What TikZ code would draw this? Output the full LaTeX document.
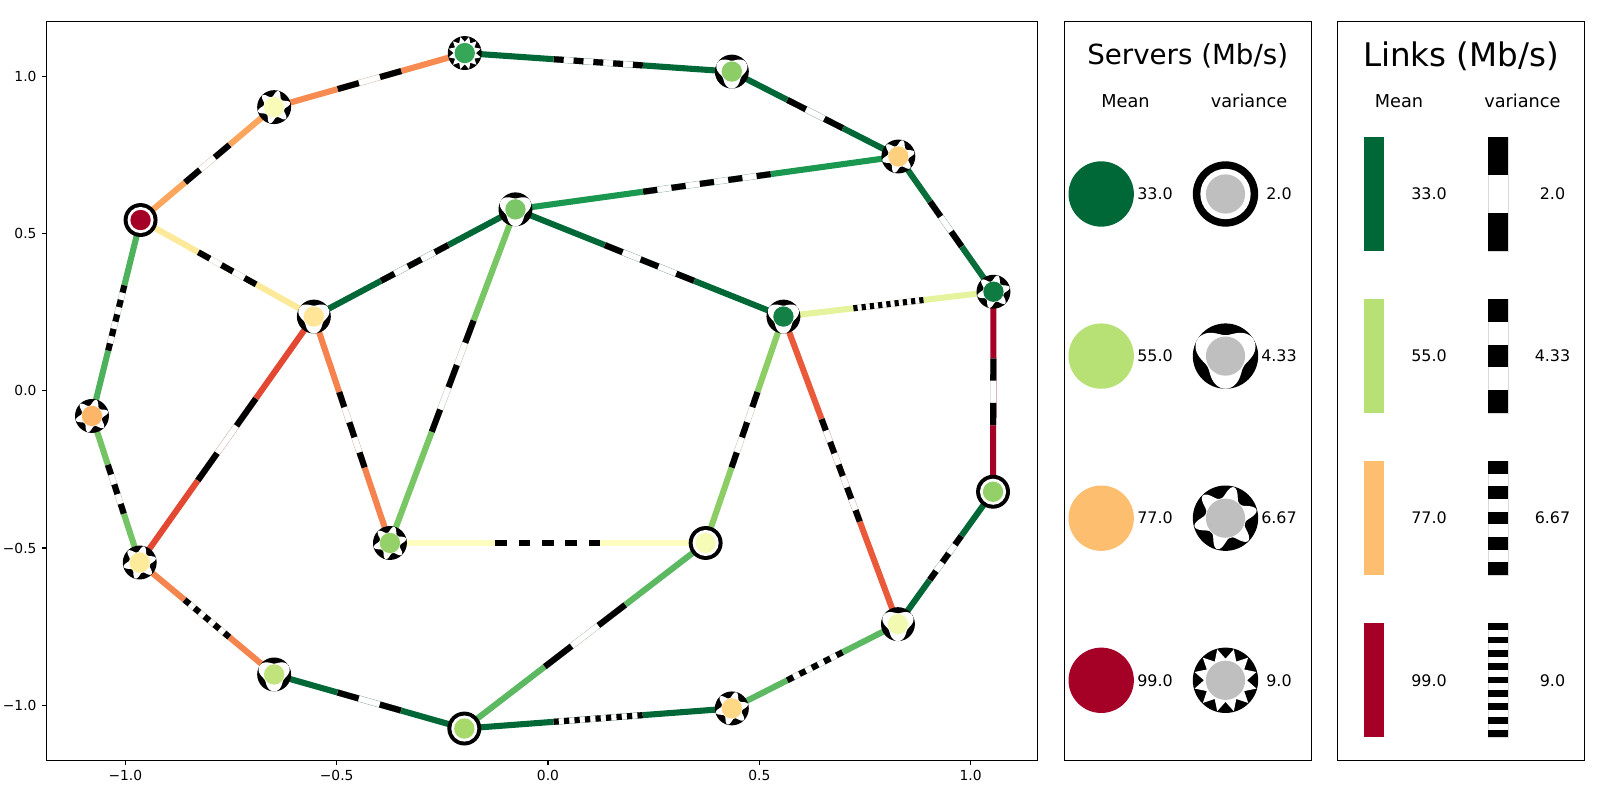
\documentclass[tikz,border=0pt]{standalone}
\usepackage{fontspec}
\setmainfont{DejaVu Sans}
\usetikzlibrary{calc,backgrounds}

\definecolor{m33}{HTML}{006837}
\definecolor{m55}{HTML}{B7E075}
\definecolor{m77}{HTML}{FDBF6F}
\definecolor{m99}{HTML}{A50026}

% white cut-out of a server marker: 0 ring, 1 three lobes, 2 six points, 3 twelve points
\newcommand{\srvhole}[2]{%
  \ifcase#1
    \fill[white] (0,0) circle ({0.77*#2});
  \or
    \fill[white] plot[domain=0:360,samples=121] (\x:{#2*(0.82+0.18*cos(3*\x-90))}) -- cycle;
  \or
    \fill[white] plot[domain=0:360,samples=241] (\x:{#2*(0.62+0.36*abs(cos(3*\x-45))^3)}) -- cycle;
  \or
    \fill[white] plot[domain=0:360,samples=25] (\x:{#2*(0.66+0.32*abs(sin(6*\x)))}) -- cycle;
  \fi}

% link: from, to, colour, number of black dashes in the middle third
\newcommand{\netlink}[4]{%
  \definecolor{lkc}{HTML}{#3}%
  \draw[lnk, lkc] (#1.center) -- (#2.center);
  \pgfpointdiff{\pgfpointanchor{#1}{center}}{\pgfpointanchor{#2}{center}}%
  \pgfgetlastxy{\lkx}{\lky}%
  \pgfmathsetmacro{\lkd}{veclen(\lkx,\lky)/(3*(2*#4-1))}%
  \draw[whitepart] ($(#1.center)!1/3!(#2.center)$) -- ($(#1.center)!2/3!(#2.center)$);
  \draw[lnk, black, dash pattern=on \lkd pt off \lkd pt] ($(#1.center)!1/3!(#2.center)$) -- ($(#1.center)!2/3!(#2.center)$);}

\begin{document}
\begin{tikzpicture}[x=0.01in, y=0.01in,
    axline/.style={line width=0.8pt},
    tick/.style={line width=0.8pt},
    ticklbl/.style={inner sep=0pt, font=\fontsize{10}{12}\selectfont},
    glyph radius/.store in=\glyphr, glyph radius=12.25pt,
    srv/.style 2 args={circle, inner sep=0pt, minimum size=24.5pt, fill=black,
        path picture={\begin{scope}[shift={(path picture bounding box.center)}]
            \srvhole{#2}{\glyphr}
            \definecolor{srvc}{HTML}{#1}
            \fill[srvc] (0,0) circle ({0.6*\glyphr});
        \end{scope}}},
    lnk/.style={line width=4.4pt},
    whitepart/.style={line width=0.3pt, draw=gray!35, double=white, double distance=3.8pt},
    hdr/.style={font=\fontsize{12.8}{15}\selectfont},
    val/.style={font=\fontsize{11.5}{14}\selectfont},
    lbar/.style={rectangle, inner sep=0pt, minimum width=14.4pt, minimum height=82.08pt}
]
\useasboundingbox (0,0) rectangle (1600,800);

% network
\begin{scope}[shift={(548,409.2)}, x=4.224in, y=3.143in]
\draw[axline] (-1.186,-1.175) rectangle (1.159,1.175);
\foreach \t/\l in {-1/−1.0, -0.5/−0.5, 0/0.0, 0.5/0.5, 1/1.0} {
    \draw[tick] (\t,-1.175) -- ++(0,-3.5pt) node[below=3.5pt, ticklbl] {\l};
    \draw[tick] (-1.186,\t) -- ++(-3.5pt,0) node[left=3.5pt, ticklbl] {\l};
}

\node[srv={36A658}{3}] (s1) at (-0.197,1.074) {};
\node[srv={8CCD67}{1}] (s2) at (0.435,1.015) {};
\node[srv={FED07E}{2}] (s3) at (0.829,0.745) {};
\node[srv={0F7B40}{2}] (s4) at (1.054,0.315) {};
\node[srv={93D168}{0}] (s5) at (1.053,-0.321) {};
\node[srv={F2F9B1}{1}] (s6) at (0.828,-0.742) {};
\node[srv={FED884}{2}] (s7) at (0.435,-1.010) {};
\node[srv={A6D96A}{0}] (s8) at (-0.198,-1.074) {};
\node[srv={C0E47B}{1}] (s9) at (-0.648,-0.902) {};
\node[srv={FEEA9B}{2}] (s10) at (-0.966,-0.546) {};
\node[srv={FDB567}{2}] (s11) at (-1.079,-0.080) {};
\node[srv={A50026}{0}] (s12) at (-0.964,0.543) {};
\node[srv={F8FCB8}{2}] (s13) at (-0.648,0.902) {};
\node[srv={7BC767}{1}] (s14) at (-0.077,0.577) {};
\node[srv={FEE598}{1}] (s15) at (-0.554,0.236) {};
\node[srv={94D168}{2}] (s16) at (-0.374,-0.484) {};
\node[srv={F6FBB6}{0}] (s17) at (0.373,-0.484) {};
\node[srv={138145}{1}] (s18) at (0.557,0.236) {};

\begin{scope}[on background layer]
\netlink{s1}{s2}{006837}{5}
\netlink{s2}{s3}{006837}{2}
\netlink{s3}{s4}{0A6E3A}{2}
\netlink{s4}{s5}{A50026}{2}
\netlink{s5}{s6}{006837}{3}
\netlink{s6}{s7}{5CB861}{5}
\netlink{s7}{s8}{006837}{9}
\netlink{s8}{s9}{006837}{2}
\netlink{s9}{s10}{F4854F}{5}
\netlink{s10}{s11}{74C365}{3}
\netlink{s11}{s12}{4EB15B}{5}
\netlink{s12}{s13}{FCA65D}{2}
\netlink{s13}{s1}{F88B51}{2}
\netlink{s14}{s3}{1A9850}{5}
\netlink{s14}{s15}{006837}{3}
\netlink{s14}{s18}{006837}{3}
\netlink{s14}{s16}{79C665}{3}
\netlink{s15}{s12}{FDE99A}{3}
\netlink{s15}{s10}{E34932}{2}
\netlink{s15}{s16}{F6834F}{3}
\netlink{s16}{s17}{FFFCBF}{5}
\netlink{s17}{s8}{5CB861}{2}
\netlink{s17}{s18}{8CCD65}{3}
\netlink{s18}{s4}{E5F49C}{9}
\netlink{s18}{s6}{EA5A3A}{5}
\end{scope}
\end{scope}

% servers legend
\draw[axline] (1064.3,39.8) rectangle (1311.2,778.6);
\node[font=\fontsize{20}{24}\selectfont] (stitle) at (1187.7,744) {Servers (Mb/s)};
\node[hdr] (smean) at (1125.5,699) {Mean};
\node[hdr] (svar) at (1249,699) {variance};
\foreach \m/\v/\c/\k [count=\i from 0] in {33.0/2.0/m33/0, 55.0/4.33/m55/1, 77.0/6.67/m77/2, 99.0/9.0/m99/3} {
    \node[circle, inner sep=0pt, minimum size=47.2pt, fill=\c] (sm\i) at (1101.2,606-162.1*\i) {};
    \node[val] (smv\i) at (1155,606-162.1*\i) {\m};
    \node[srv={BFBFBF}{\k}, glyph radius=23.6pt, minimum size=47.2pt] (sv\i) at (1225.5,606-162.1*\i) {};
    \node[val] (svv\i) at (1279,606-162.1*\i) {\v};
}

% links legend
\draw[axline] (1337.5,39.8) rectangle (1584.7,778.6);
\node[font=\fontsize{23.5}{28}\selectfont] (ltitle) at (1461,744) {Links (Mb/s)};
\node[hdr] (lmean) at (1399,699) {Mean};
\node[hdr] (lvar) at (1522.4,699) {variance};
\foreach \m/\v/\c/\n [count=\i from 0] in {33.0/2.0/m33/2, 55.0/4.33/m55/3, 77.0/6.67/m77/5, 99.0/9.0/m99/9} {
    \node[lbar, fill=\c] (lm\i) at (1374,606-162.1*\i) {};
    \node[val] (lmv\i) at (1429,606-162.1*\i) {\m};
    \node[lbar, fill=white, draw=gray!30, line width=0.3pt] (lv\i) at (1498,606-162.1*\i) {};
    \pgfmathsetmacro{\lkd}{82.08/(2*\n-1)}
    \draw[line width=14.4pt, dash pattern=on \lkd pt off \lkd pt] (lv\i.north) -- (lv\i.south);
    \node[val] (lvv\i) at (1552.5,606-162.1*\i) {\v};
}
\end{tikzpicture}
\end{document}
